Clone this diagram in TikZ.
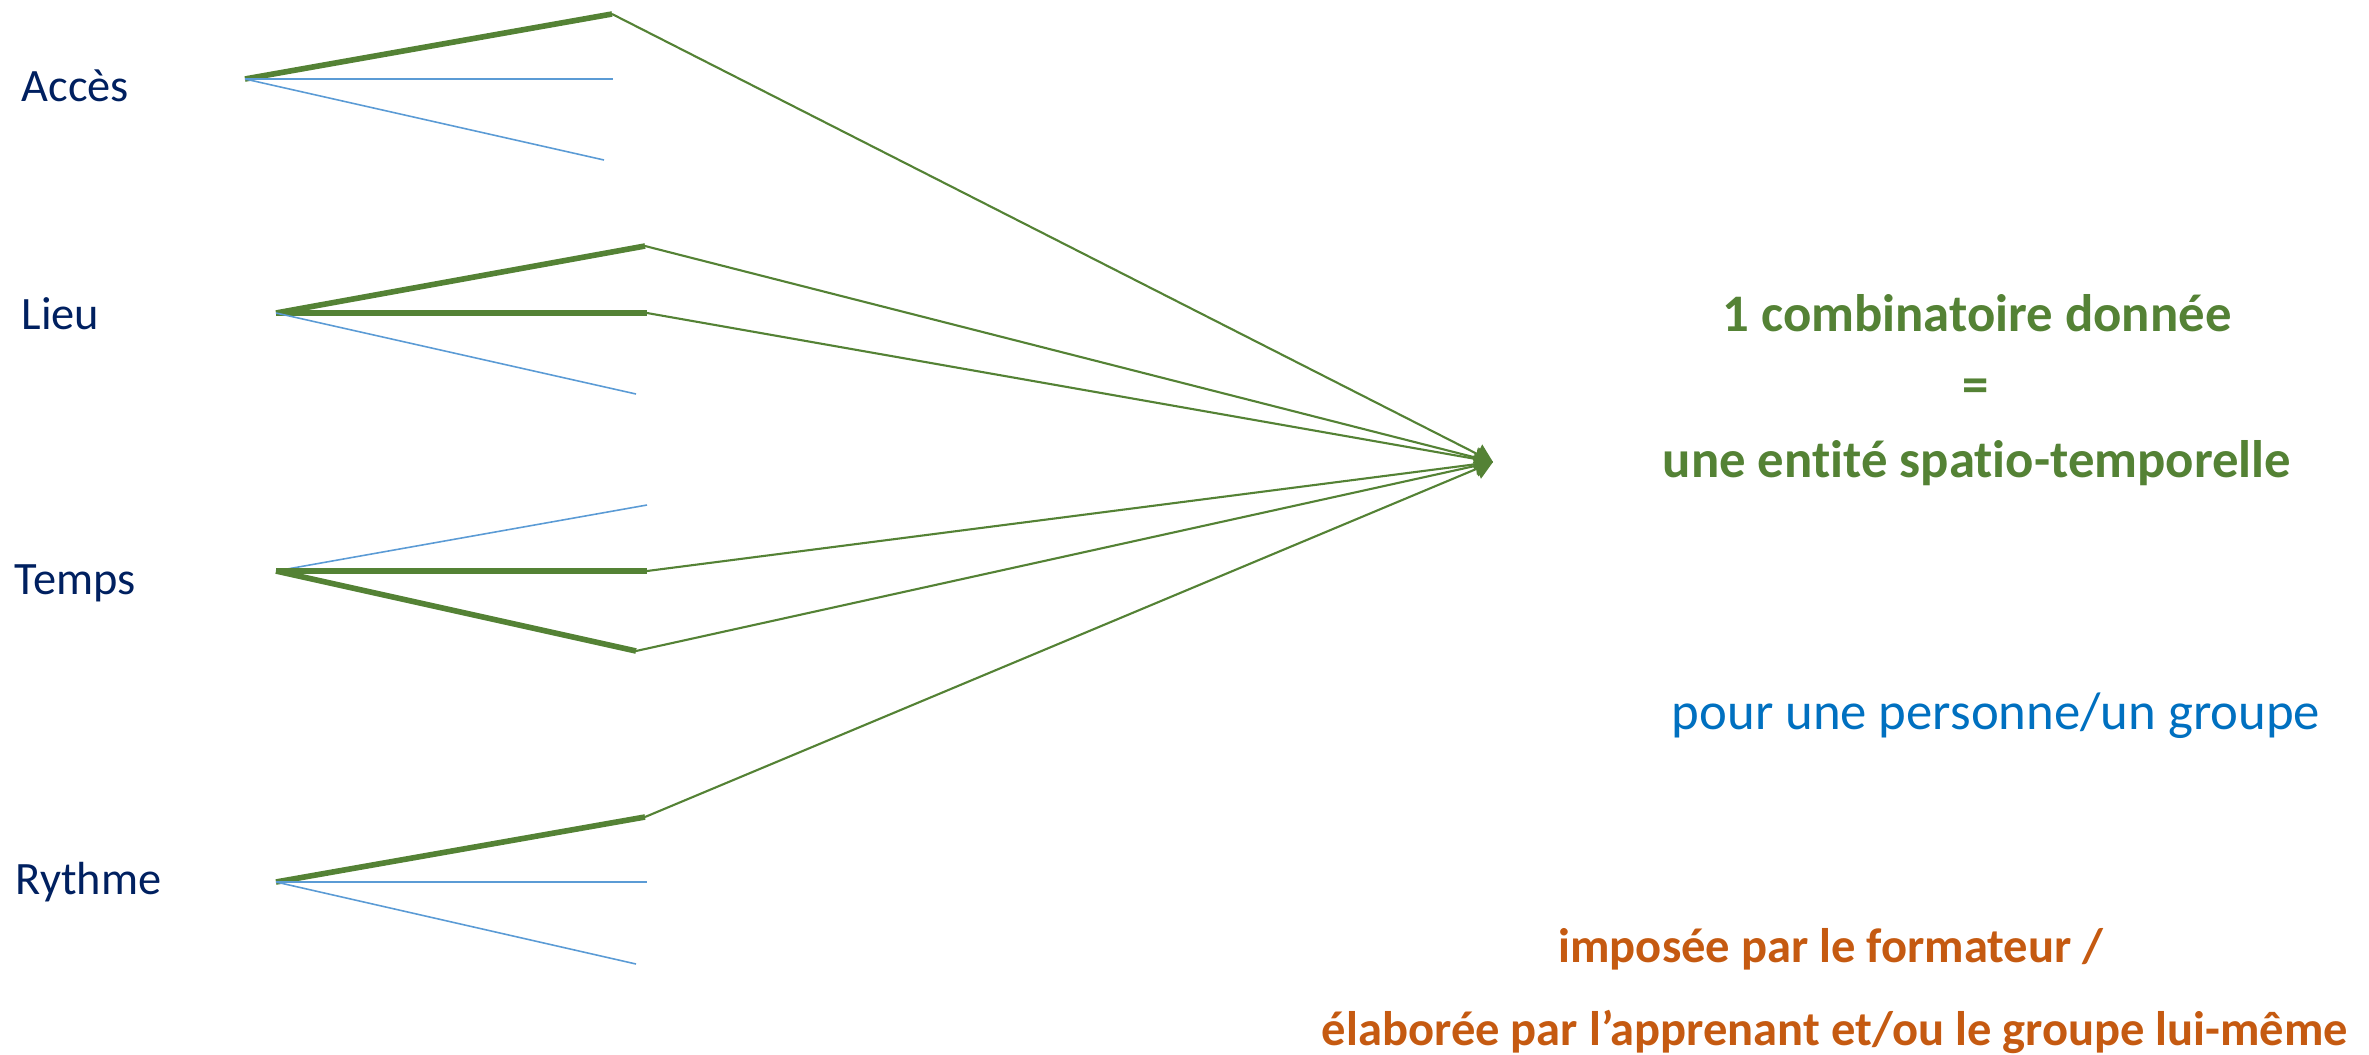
\documentclass[tikz,border=0pt]{standalone}
\usepackage{fontspec}
\setmainfont{Carlito}[Ligatures=NoCommon]
\usetikzlibrary{arrows.meta}
\definecolor{vert}{RGB}{84,130,53}
\definecolor{bleuclair}{RGB}{91,155,213}
\definecolor{marine}{RGB}{0,32,96}
\definecolor{bleutexte}{RGB}{0,112,192}
\definecolor{orangefonce}{RGB}{197,90,17}
\tikzset{
  critere/.style={anchor=west,inner sep=0pt,text=marine,font=\fontsize{13.2}{16}\selectfont},
  titre/.style={inner sep=0pt,font=\bfseries\fontsize{15}{18}\selectfont},
  consigne/.style={inner sep=0pt,text=orangefonce,font=\bfseries\fontsize{13.8}{17}\selectfont},
  choisi/.style={vert,line width=1.6pt},
  autre/.style={bleuclair,line width=0.45pt},
  fleche/.style={vert,line width=0.6pt,-{Triangle[length=5pt,width=6pt]}}
}
\begin{document}
\begin{tikzpicture}[x=0.01cm,y=-0.01cm]
\useasboundingbox (0,0) rectangle (2369,1054);
%\draw[step=100,gray!20] (0,0) grid (2369,1054); %Hilfsgitter
\node[critere] (acces) at (21,86) {Accès};
\node[critere] (lieu) at (21,314) {Lieu};
\node[critere] (temps) at (14,583) {Temps};
\node[critere] (rythme) at (15,882) {Rythme};
\coordinate (cible) at (1493,462);
% Accès
\coordinate (oA) at (245,79);
\coordinate (A1) at (612,14); \coordinate (A2) at (613,79); \coordinate (A3) at (604,160);
\draw[choisi] (oA) -- (A1); \draw[autre] (oA) -- (A2); \draw[autre] (oA) -- (A3);
% Lieu
\coordinate (oL) at (276,313);
\coordinate (L1) at (645,246); \coordinate (L2) at (647,313); \coordinate (L3) at (636,394);
\draw[choisi] (oL) -- (L1); \draw[choisi] (oL) -- (L2); \draw[autre] (oL) -- (L3);
% Temps
\coordinate (oT) at (276,571);
\coordinate (T1) at (647,505); \coordinate (T2) at (647,571); \coordinate (T3) at (636,651);
\draw[autre] (oT) -- (T1); \draw[choisi] (oT) -- (T2); \draw[choisi] (oT) -- (T3);
% Rythme
\coordinate (oR) at (276,882);
\coordinate (R1) at (645,817); \coordinate (R2) at (647,882); \coordinate (R3) at (636,964);
\draw[choisi] (oR) -- (R1); \draw[autre] (oR) -- (R2); \draw[autre] (oR) -- (R3);
% vers la combinatoire
\foreach \p in {A1,L1,L2,T2,T3,R1} \draw[fleche] (\p) -- (cible);
\node[titre,text=vert] (comb) at (1977,313) {1 combinatoire donnée};
\node[titre,text=vert] (egal) at (1976,391) {=};
\node[titre,text=vert] (entite) at (1977,463) {une entité spatio-temporelle};
\node[inner sep=0pt,text=bleutexte,font=\fontsize{15}{18}\selectfont] (pour) at (1996,716) {pour une personne/un groupe};
\node[consigne] (impose) at (1831,949) {imposée par le formateur /};
\node[consigne] (elabore) at (1835,1032) {élaborée par l’apprenant et/ou le groupe lui-même};
\end{tikzpicture}
\end{document}
